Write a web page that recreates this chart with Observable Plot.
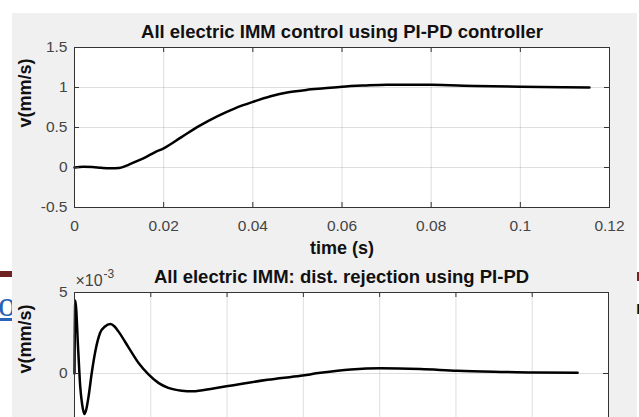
<!DOCTYPE html>
<html>
<head>
<meta charset="utf-8">
<script src="https://cdn.jsdelivr.net/npm/d3@7"></script>
<script src="https://cdn.jsdelivr.net/npm/@observablehq/plot@0.6"></script>
<style>
  html, body { margin: 0; padding: 0; }
  body { width: 639px; height: 417px; overflow: hidden; position: relative; background: #fff;
         font-family: "Liberation Sans", Arial, sans-serif; }
  #bg { position: absolute; left: 12px; top: 13px; width: 625px; height: 404px; background: #f0f0f0; }
  #p1 { position: absolute; left: 0; top: 0; }
  #p2 { position: absolute; left: 0; top: 260px; }
  .art { position: absolute; }
</style>
</head>
<body>
<div id="bg"></div>
<div class="art" style="left:0;top:271px;width:12px;height:6px;background:#6e2222"></div>
<div class="art" style="left:-2px;top:286px;width:14px;height:38px;overflow:hidden;font-family:'Liberation Serif',serif;font-size:36px;line-height:36px;color:#2a62b8;text-decoration:underline">o</div>
<div class="art" style="left:637px;top:272px;width:2px;height:9px;background:#7a2222"></div>
<div class="art" style="left:636px;top:298px;width:3px;height:20px;overflow:hidden;font-size:18px;line-height:20px;font-weight:bold;color:#111">r</div>
<div id="p1"></div>
<div id="p2"></div>
<script>
// ---- Top chart: step response ----
const stepTitle = "All electric IMM control using PI-PD controller";
const stepT = [0, 0.002, 0.004, 0.006, 0.008, 0.010, 0.012, 0.014, 0.016, 0.018, 0.020, 0.024, 0.028, 0.032, 0.036, 0.040, 0.044, 0.048, 0.052, 0.056, 0.060, 0.065, 0.070, 0.075, 0.080, 0.090, 0.100, 0.110, 0.1155];
const stepV = [0, 0.008, 0.006, -0.004, -0.01, -0.006, 0.03, 0.08, 0.13, 0.19, 0.24, 0.38, 0.52, 0.64, 0.74, 0.82, 0.89, 0.94, 0.97, 0.99, 1.01, 1.025, 1.035, 1.035, 1.033, 1.02, 1.01, 1.004, 1.0];
const stepXTicks = [0, 0.02, 0.04, 0.06, 0.08, 0.1, 0.12];
const stepYTicks = [-0.5, 0, 0.5, 1, 1.5];

// ---- Bottom chart: disturbance rejection (values x 10^-3) ----
const distTitle = "All electric IMM: dist. rejection using PI-PD";
const distT = [0, 0.0002, 0.0010, 0.0015, 0.0020, 0.0026, 0.0031, 0.0037, 0.0045, 0.0054, 0.0067, 0.0080, 0.0094, 0.0105, 0.0115, 0.0142, 0.0168, 0.0194, 0.0220, 0.0246, 0.0281, 0.0310, 0.0364, 0.0417, 0.0506, 0.0593, 0.0645, 0.0724, 0.0802, 0.0907, 0.1004, 0.1117, 0.1206, 0.1319];
const distV = [0, 4.5, 1.3, -0.8, -1.9, -2.5, -2.2, -1.4, 0, 1.3, 2.5, 2.9, 3.05, 2.9, 2.6, 1.6, 0.65, -0.05, -0.58, -0.89, -1.06, -1.1, -0.92, -0.72, -0.39, -0.14, 0.04, 0.25, 0.33, 0.28, 0.17, 0.1, 0.06, 0.05];
const distXTicks = [0, 0.02, 0.04, 0.06, 0.08, 0.1, 0.12, 0.14];
const distYTicks = [-5, 0, 5];

const xLabel = "time (s)";
const yLabel = "v(mm/s)";
const expLabel = ["×10", "-3"];

const axisColor = "#333333";
const tickTextColor = "#444444";
const gridStyle = {stroke: "#262626", strokeOpacity: 0.15};
const font = "'Liberation Sans', Arial, Helvetica, sans-serif";

function panel({t, v, xDomain, yDomain, xTicks, yTicks, title, height, mt, mb, ml, mr, showXLabels, extra = []}) {
  const width = 639;
  const fh = height - mt - mb;
  const fw = width - ml - mr;
  const tick = 5;
  const data = t.map((d, i) => ({t: d, v: v[i]}));
  return Plot.plot({
    width, height,
    marginTop: mt, marginBottom: mb, marginLeft: ml, marginRight: mr,
    style: {background: "transparent", fontFamily: font, overflow: "visible"},
    x: {domain: xDomain},
    y: {domain: yDomain},
    marks: [
      Plot.frame({fill: "white", stroke: null}),
      Plot.gridX(xTicks, gridStyle),
      Plot.gridY(yTicks, gridStyle),
      Plot.line(data, {x: "t", y: "v", stroke: "black", strokeWidth: 2.5, curve: "monotone-x"}),
      Plot.frame({stroke: axisColor, strokeWidth: 1}),
      Plot.tickX(xTicks, {x: d => d, insetTop: fh - tick, stroke: axisColor}),
      Plot.tickX(xTicks, {x: d => d, insetBottom: fh - tick, stroke: axisColor}),
      Plot.tickY(yTicks, {y: d => d, insetRight: fw - tick, stroke: axisColor}),
      Plot.tickY(yTicks, {y: d => d, insetLeft: fw - tick, stroke: axisColor}),
      Plot.axisX(xTicks, {tickSize: 0, tickPadding: 12, fontSize: 15.5, color: tickTextColor, tickFormat: d => String(d), label: null}),
      Plot.axisY(yTicks, {tickSize: 0, tickPadding: 7, fontSize: 15.5, color: tickTextColor, tickFormat: d => String(d), label: null}),
      Plot.text([title], {text: d => d, frameAnchor: "top", lineAnchor: "middle", dy: -15, fontSize: 18.5, fontWeight: "bold", fill: "#111"}),
      Plot.text([yLabel], {text: d => d, frameAnchor: "left", lineAnchor: "middle", rotate: -90, dx: -49, fontSize: 18, fontWeight: "bold", fill: "#111"}),
      ...(showXLabels ? [Plot.text([xLabel], {text: d => d, frameAnchor: "bottom", lineAnchor: "middle", dy: 41, fontSize: 18, fontWeight: "bold", fill: "#111"})] : []),
      ...extra
    ]
  });
}

document.getElementById("p1").append(panel({
  t: stepT, v: stepV, xDomain: [0, 0.12], yDomain: [-0.5, 1.5],
  xTicks: stepXTicks, yTicks: stepYTicks, title: stepTitle,
  height: 260, mt: 47, mb: 53, ml: 74, mr: 30, showXLabels: true
}));

document.getElementById("p2").append(panel({
  t: distT, v: distV, xDomain: [0, 0.14], yDomain: [-5, 5],
  xTicks: distXTicks, yTicks: distYTicks, title: distTitle,
  height: 260, mt: 32, mb: 66, ml: 74, mr: 31, showXLabels: true,
  extra: [
    Plot.text([expLabel[0]], {text: d => d, frameAnchor: "top-left", lineAnchor: "middle", textAnchor: "start", dx: 1, dy: -12, fontSize: 16, fill: tickTextColor}),
    Plot.text([expLabel[1]], {text: d => d, frameAnchor: "top-left", lineAnchor: "middle", textAnchor: "start", dx: 29, dy: -18, fontSize: 12, fill: tickTextColor})
  ]
}));
</script>
</body>
</html>
